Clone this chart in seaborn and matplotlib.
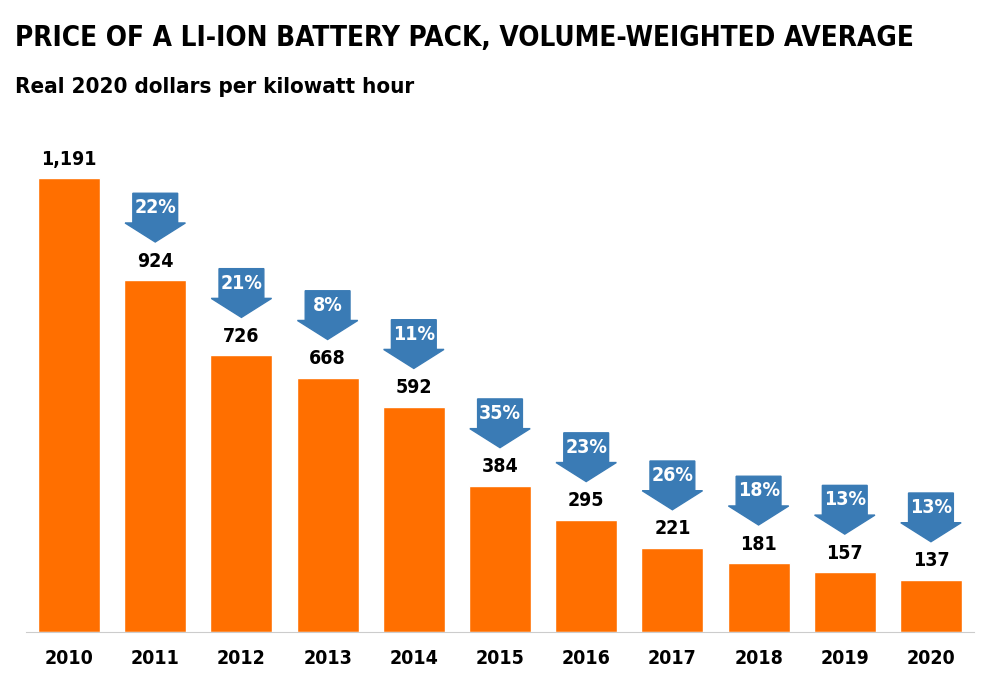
import matplotlib
matplotlib.use('Agg')
import matplotlib.pyplot as plt
import seaborn as sns
from matplotlib.patches import Polygon

years = ['2010', '2011', '2012', '2013', '2014', '2015', '2016', '2017', '2018', '2019', '2020']
prices = [1191, 924, 726, 668, 592, 384, 295, 221, 181, 157, 137]
drops = [None, '22%', '21%', '8%', '11%', '35%', '23%', '26%', '18%', '13%', '13%']

sns.set_style('white')
plt.rcParams['font.family'] = ['DejaVu Sans']
plt.rcParams['font.stretch'] = 'condensed'

orange = '#FF6F00'
blue = '#3A7BB5'

fig = plt.figure(figsize=(9.98, 6.82), dpi=100)
ax = fig.add_axes([0.026, 0.0733, 0.95, 0.726])
sns.barplot(x=years, y=prices, color=orange, width=0.72, saturation=1, ax=ax)
ax.set_ylim(0, 1300)
ax.set_xlim(-0.5, 10.5)
ax.set_yticks([])
ax.set_ylabel('')
for s in ['top', 'left', 'right']:
    ax.spines[s].set_visible(False)
ax.spines['bottom'].set_color('#cccccc')
ax.tick_params(axis='x', length=0, pad=12)
for lbl in ax.get_xticklabels():
    lbl.set_fontsize(14)
    lbl.set_fontweight('bold')
    lbl.set_color('black')

for i, (v, d) in enumerate(zip(prices, drops)):
    ax.text(i, v + 25, f'{v:,}', ha='center', va='bottom', fontsize=14, fontweight='bold', color='black')
    if d:
        bw, hw = 0.26, 0.35
        pts = [(i - bw, v + 228), (i + bw, v + 228), (i + bw, v + 150), (i + hw, v + 150),
               (i, v + 100), (i - hw, v + 150), (i - bw, v + 150)]
        ax.add_patch(Polygon(pts, closed=True, color=blue, clip_on=False))
        ax.text(i, v + 190, d, ha='center', va='center', fontsize=14, fontweight='bold', color='white')

fig.text(0.015, 0.945, 'PRICE OF A LI-ION BATTERY PACK, VOLUME-WEIGHTED AVERAGE',
         fontsize=20, fontweight='bold', va='center', ha='left', color='black')
fig.text(0.015, 0.872, 'Real 2020 dollars per kilowatt hour', fontsize=16, fontweight='bold',
         va='center', ha='left', color='black')

fig.savefig('out.png', dpi=100)
